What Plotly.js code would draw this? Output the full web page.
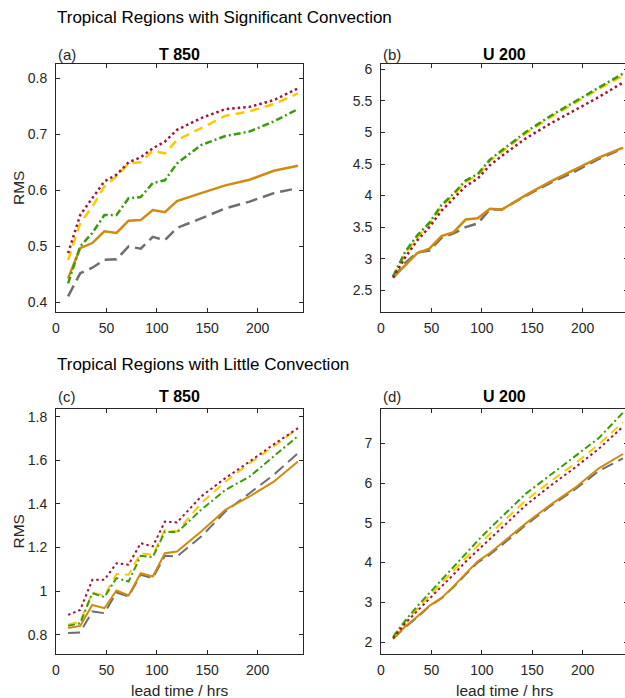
<!DOCTYPE html>
<html>
<head>
<meta charset="utf-8">
<script src="https://cdn.plot.ly/plotly-3.0.1.min.js"></script>
<style>
html,body{margin:0;padding:0;overflow:hidden;background:#fff;}
#chart{width:630px;height:698px;}
</style>
</head>
<body>
<div id="chart"></div>
<script>
// lead times (hours)
const leadHours = [12,24,36,48,60,72,84,96,108,120,144,168,192,216,240];

// Panel (a): T 850, significant convection
const aSolid   = [0.443,0.497,0.506,0.527,0.524,0.546,0.547,0.565,0.561,0.581,0.595,0.609,0.619,0.635,0.644];
const aGray    = [0.411,0.452,0.462,0.476,0.477,0.500,0.496,0.517,0.511,0.533,0.550,0.568,0.580,0.595,0.604];
const aGreen   = [0.434,0.500,0.524,0.556,0.556,0.586,0.588,0.613,0.618,0.648,0.681,0.697,0.705,0.723,0.745];
const aYellow  = [0.476,0.541,0.571,0.607,0.625,0.648,0.650,0.671,0.666,0.690,0.711,0.733,0.741,0.754,0.773];
const aRed     = [0.488,0.556,0.586,0.616,0.628,0.650,0.659,0.675,0.687,0.708,0.729,0.745,0.749,0.761,0.782];

// Panel (b): U 200, significant convection
const bSolid   = [2.70,2.90,3.09,3.16,3.36,3.42,3.62,3.64,3.79,3.78,4.01,4.22,4.41,4.60,4.76];
const bGray    = [2.70,2.93,3.10,3.13,3.33,3.40,3.50,3.56,3.78,3.78,4.00,4.20,4.38,4.58,4.75];
const bGreen   = [2.72,3.11,3.37,3.57,3.85,4.03,4.24,4.34,4.57,4.72,5.01,5.26,5.49,5.71,5.93];
const bYellow  = [2.71,3.08,3.34,3.55,3.83,4.01,4.22,4.32,4.55,4.70,4.99,5.24,5.47,5.69,5.90];
const bRed     = [2.70,3.02,3.29,3.50,3.76,3.95,4.15,4.27,4.48,4.63,4.91,5.14,5.35,5.56,5.79];

// Panel (c): T 850, little convection
const cSolid   = [0.831,0.841,0.937,0.922,1.003,0.980,1.082,1.067,1.174,1.182,1.273,1.373,1.434,1.502,1.594];
const cGray    = [0.808,0.811,0.907,0.899,0.994,0.976,1.075,1.060,1.162,1.159,1.250,1.365,1.449,1.533,1.632];
const cGreen   = [0.841,0.853,0.991,0.973,1.060,1.044,1.162,1.156,1.273,1.269,1.373,1.464,1.525,1.617,1.711];
const cYellow  = [0.846,0.861,0.994,0.979,1.079,1.075,1.174,1.166,1.281,1.273,1.403,1.502,1.586,1.663,1.747];
const cRed     = [0.891,0.914,1.052,1.052,1.128,1.121,1.220,1.205,1.319,1.315,1.434,1.518,1.594,1.673,1.747];

// Panel (d): U 200, little convection
const dSolid   = [2.08,2.39,2.64,2.91,3.11,3.40,3.72,4.03,4.24,4.49,4.99,5.45,5.87,6.37,6.73];
const dGray    = [2.08,2.37,2.62,2.90,3.10,3.38,3.70,4.00,4.20,4.44,4.95,5.42,5.83,6.30,6.62];
const dGreen   = [2.13,2.54,2.90,3.23,3.57,3.90,4.24,4.55,4.86,5.16,5.74,6.20,6.66,7.13,7.77];
const dYellow  = [2.11,2.50,2.84,3.15,3.48,3.80,4.12,4.42,4.72,5.01,5.57,6.04,6.48,6.97,7.53];
const dRed     = [2.10,2.47,2.78,3.08,3.39,3.70,4.02,4.31,4.60,4.88,5.45,5.93,6.38,6.86,7.42];

const panelLabels = ['(a)','(b)','(c)','(d)'];
const panelTitles = ['T 850','U 200','T 850','U 200'];
const rowTitles = ['Tropical Regions with Significant Convection','Tropical Regions with Little Convection'];
const xTicks = [0,50,100,150,200];
const yTicksA = [0.4,0.5,0.6,0.7,0.8];
const yTicksB = [2.5,3,3.5,4,4.5,5,5.5,6];
const yTicksC = [0.8,1,1.2,1.4,1.6,1.8];
const yTicksD = [2,3,4,5,6,7];

const W = 630, H = 698;
const COL = {
  solid:'#D18A0E', gray:'#6E6E6E', green:'#3A9B0C', yellow:'#FFC800', red:'#A0143A'
};
const FONT = 'Liberation Sans, Arial, Helvetica, sans-serif';

function px2x(p){return p/W;}
function px2y(p){return 1-p/H;}

const panels = [
  {data:[aSolid,aGray,aGreen,aYellow,aRed], xa:'x', ya:'y', lw:2.5},
  {data:[bSolid,bGray,bGreen,bYellow,bRed], xa:'x2', ya:'y2', lw:2.5},
  {data:[cSolid,cGray,cGreen,cYellow,cRed], xa:'x3', ya:'y3', lw:2},
  {data:[dSolid,dGray,dGreen,dYellow,dRed], xa:'x4', ya:'y4', lw:2},
];
const styles = [
  {c:COL.solid, dash:'solid'},
  {c:COL.gray, dash:'12px,6px'},
  {c:COL.green, dash:'7px,3px,2px,3px'},
  {c:COL.yellow, dash:'9px,6px'},
  {c:COL.red, dash:'2.5px,3px'},
];
const order = [1,0,3,2,4];

const traces = [];
panels.forEach(p=>{
  order.forEach(i=>{
    traces.push({
      x: leadHours, y: p.data[i], xaxis:p.xa, yaxis:p.ya, mode:'lines',
      line:{color:styles[i].c, width:p.lw, dash:styles[i].dash},
      hoverinfo:'skip', showlegend:false
    });
  });
});

// plot rectangles in px
const colL = [[56,303],[381,628]];
const rowT = [[64,312],[409,654]];

function axis(dom, rng, ticks, isY, anchor, showLabels){
  return {
    domain: dom, range: rng, tickvals: ticks, ticktext: ticks.map(String),
    ticks:'inside', ticklen:4, tickwidth:1, tickcolor:'#262626',
    showline:true, linecolor:'#262626', linewidth:1, mirror:'ticks',
    showgrid:false, zeroline:false, anchor: anchor,
    tickfont:{family:FONT, size:14, color:'#262626'},
    ticklabelstandoff: isY ? 5 : 3,
    fixedrange:true
  };
}
const yR = [[0.383,0.8255],[2.156,6.084],[0.712,1.835],[1.698,7.862]];
const yT = [yTicksA,yTicksB,yTicksC,yTicksD];

const layout = {
  width:W, height:H, margin:{l:0,r:0,t:0,b:0},
  paper_bgcolor:'#fff', plot_bgcolor:'#fff',
  showlegend:false,
  annotations:[]
};
const names = ['','2','3','4'];
for(let k=0;k<4;k++){
  const c = k%2, r = Math.floor(k/2);
  const xd = [px2x(colL[c][0]), px2x(colL[c][1])];
  const yd = [px2y(rowT[r][1]), px2y(rowT[r][0])];
  layout['xaxis'+names[k]] = axis(xd,[0,245],xTicks,false,'y'+names[k]);
  layout['yaxis'+names[k]] = axis(yd,yR[k],yT[k],true,'x'+names[k]);
  const cx = (colL[c][0]+colL[c][1])/2;
  const ty = r===0 ? 55 : 396.5;
  layout.annotations.push({
    xref:'paper', yref:'paper', x:px2x(cx), y:px2y(ty), xanchor:'center', yanchor:'middle',
    text:'<b>'+panelTitles[k]+'</b>', showarrow:false, font:{family:FONT,size:16,color:'#000'}
  });
  layout.annotations.push({
    xref:'paper', yref:'paper', x:px2x(colL[c][0]), y:px2y(ty), xanchor:'left', yanchor:'middle',
    text:panelLabels[k], showarrow:false, font:{family:FONT,size:15,color:'#262626'}
  });
  if(c===0){
    layout.annotations.push({
      xref:'paper', yref:'paper', x:px2x(18), y:px2y((rowT[r][0]+rowT[r][1])/2), xanchor:'center', yanchor:'middle',
      text:'RMS', textangle:-90, showarrow:false, font:{family:FONT,size:15.5,color:'#262626'}
    });
  }
  if(r===1){
    layout.annotations.push({
      xref:'paper', yref:'paper', x:px2x(cx), y:px2y(690), xanchor:'center', yanchor:'middle',
      text:'lead time / hrs', showarrow:false, font:{family:FONT,size:15.5,color:'#262626'}
    });
  }
}
layout.annotations.push({
  xref:'paper', yref:'paper', x:px2x(55), y:px2y(18), xanchor:'left', yanchor:'middle',
  text:rowTitles[0], showarrow:false, font:{family:FONT,size:17,color:'#000'}
});
layout.annotations.push({
  xref:'paper', yref:'paper', x:px2x(55), y:px2y(365), xanchor:'left', yanchor:'middle',
  text:rowTitles[1], showarrow:false, font:{family:FONT,size:17,color:'#000'}
});

Plotly.newPlot('chart', traces, layout, {staticPlot:true, displayModeBar:false});
</script>
</body>
</html>
